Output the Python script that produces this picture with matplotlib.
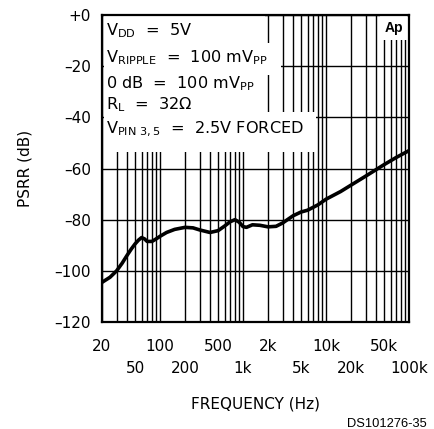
import numpy as np
import matplotlib
matplotlib.use("Agg")
import matplotlib.pyplot as plt
from matplotlib.patches import Rectangle

# PSRR vs frequency
freq = [20, 25, 30, 35, 40, 45, 50, 55, 60, 65, 70, 80, 90, 100, 120, 150,
        200, 250, 300, 400, 500, 600, 700, 800, 900, 1000, 1100, 1300, 1600,
        2000, 2500, 3000, 3500, 4000, 5000, 6000, 8000, 10000, 15000, 20000,
        30000, 50000, 70000, 100000]
psrr = [-104.5, -102.5, -100.0, -97.0, -94.0, -91.5, -89.5, -88.0, -87.0, -87.5,
        -88.5, -88.5, -87.5, -86.5, -85.0, -83.8, -83.0, -83.2, -84.0, -85.0,
        -84.3, -82.5, -80.8, -80.0, -81.0, -82.7, -83.0, -82.0, -82.2, -82.8,
        -82.6, -81.3, -79.8, -78.5, -77.0, -76.3, -74.2, -72.0, -69.0, -66.5,
        -63.0, -58.5, -55.7, -53.0]

row1_ticks = [20, 100, 500, 2000, 10000, 50000]
row1_labels = ["20", "100", "500", "2k", "10k", "50k"]
row2_ticks = [50, 200, 1000, 5000, 20000, 100000]
row2_labels = ["50", "200", "1k", "5k", "20k", "100k"]
y_ticks = [0, -20, -40, -60, -80, -100, -120]
y_labels = ["+0", "\u201320", "\u201340", "\u201360", "\u201380", "\u2013100", "\u2013120"]

conditions = [r"$V_{DD}$  =  5V",
              r"$V_{RIPPLE}$  =  100 m$V_{PP}$",
              r"0 dB  =  100 m$V_{PP}$",
              r"$R_{L}$  =  32$\Omega$",
              r"$V_{PIN\ 3,5}$  =  2.5V FORCED"]
cond_y = [-6.3, -16.6, -27.0, -35.0, -44.5]


def main():
    plt.rcParams['font.family'] = 'DejaVu Sans'
    plt.rcParams['mathtext.default'] = 'regular'

    fig = plt.figure(figsize=(4.34, 4.29), dpi=100)
    ax = fig.add_axes([0.235, 0.2494, 0.7074, 0.7156])
    ax.set_xscale('log')
    ax.set_xlim(20, 100000)
    ax.set_ylim(-120, 0)

    # datasheet grid: every 1..9 multiple per decade, every 20 dB
    grid_f = [m * 10 ** e for e in range(1, 6) for m in range(1, 10)
              if 20 <= m * 10 ** e <= 100000]
    ax.vlines(grid_f, -120, 0, color='black', lw=1.0, zorder=1)
    ax.hlines(y_ticks, 20, 100000, color='black', lw=1.0, zorder=1)

    # white patches behind the condition text and the "Ap" mark
    masks = [(0.005, 0.909, 0.526, 0.091),
             (0.005, 0.805, 0.578, 0.104),
             (0.005, 0.684, 0.526, 0.121),
             (0.005, 0.554, 0.692, 0.130),
             (0.905, 0.919, 0.09, 0.081)]
    for x0, y0, w, h in masks:
        ax.add_patch(Rectangle((x0, y0), w, h, transform=ax.transAxes,
                               facecolor='white', edgecolor='none', zorder=2))

    for txt, yv in zip(conditions, cond_y):
        ax.text(0.012, yv, txt, transform=ax.get_yaxis_transform(),
                fontsize=11.6, va='center', ha='left', zorder=3)
    ax.text(0.95, 0.958, "Ap", transform=ax.transAxes, fontsize=10,
            fontweight='bold', family='Liberation Sans', ha='center',
            va='center', zorder=3)

    ax.plot(freq, psrr, color='black', lw=2.6, zorder=4,
            solid_capstyle='round')

    ax.xaxis.set_minor_locator(matplotlib.ticker.NullLocator())
    ax.set_xticks(row1_ticks + row2_ticks)
    ax.set_xticklabels(row1_labels + row2_labels, fontsize=11)
    for i, t in enumerate(ax.xaxis.get_major_ticks()):
        t.set_pad(12 if i < len(row1_ticks) else 28)
    ax.set_yticks(y_ticks)
    ax.set_yticklabels(y_labels, fontsize=11)
    ax.tick_params(axis='both', length=0)
    ax.tick_params(axis='y', pad=8)

    for s in ax.spines.values():
        s.set_linewidth(1.6)
        s.set_zorder(5)

    fig.text(0.5885, 0.0583, "FREQUENCY (Hz)", fontsize=11, ha='center',
             va='center')
    fig.text(0.058, 0.607, "PSRR (dB)", fontsize=11, ha='center',
             va='center', rotation=90)
    fig.text(0.984, 0.0128, "DS101276-35", fontsize=9.3,
             family='Liberation Sans', ha='right', va='center')

    fig.savefig('out.png', dpi=100)


if __name__ == '__main__':
    main()
